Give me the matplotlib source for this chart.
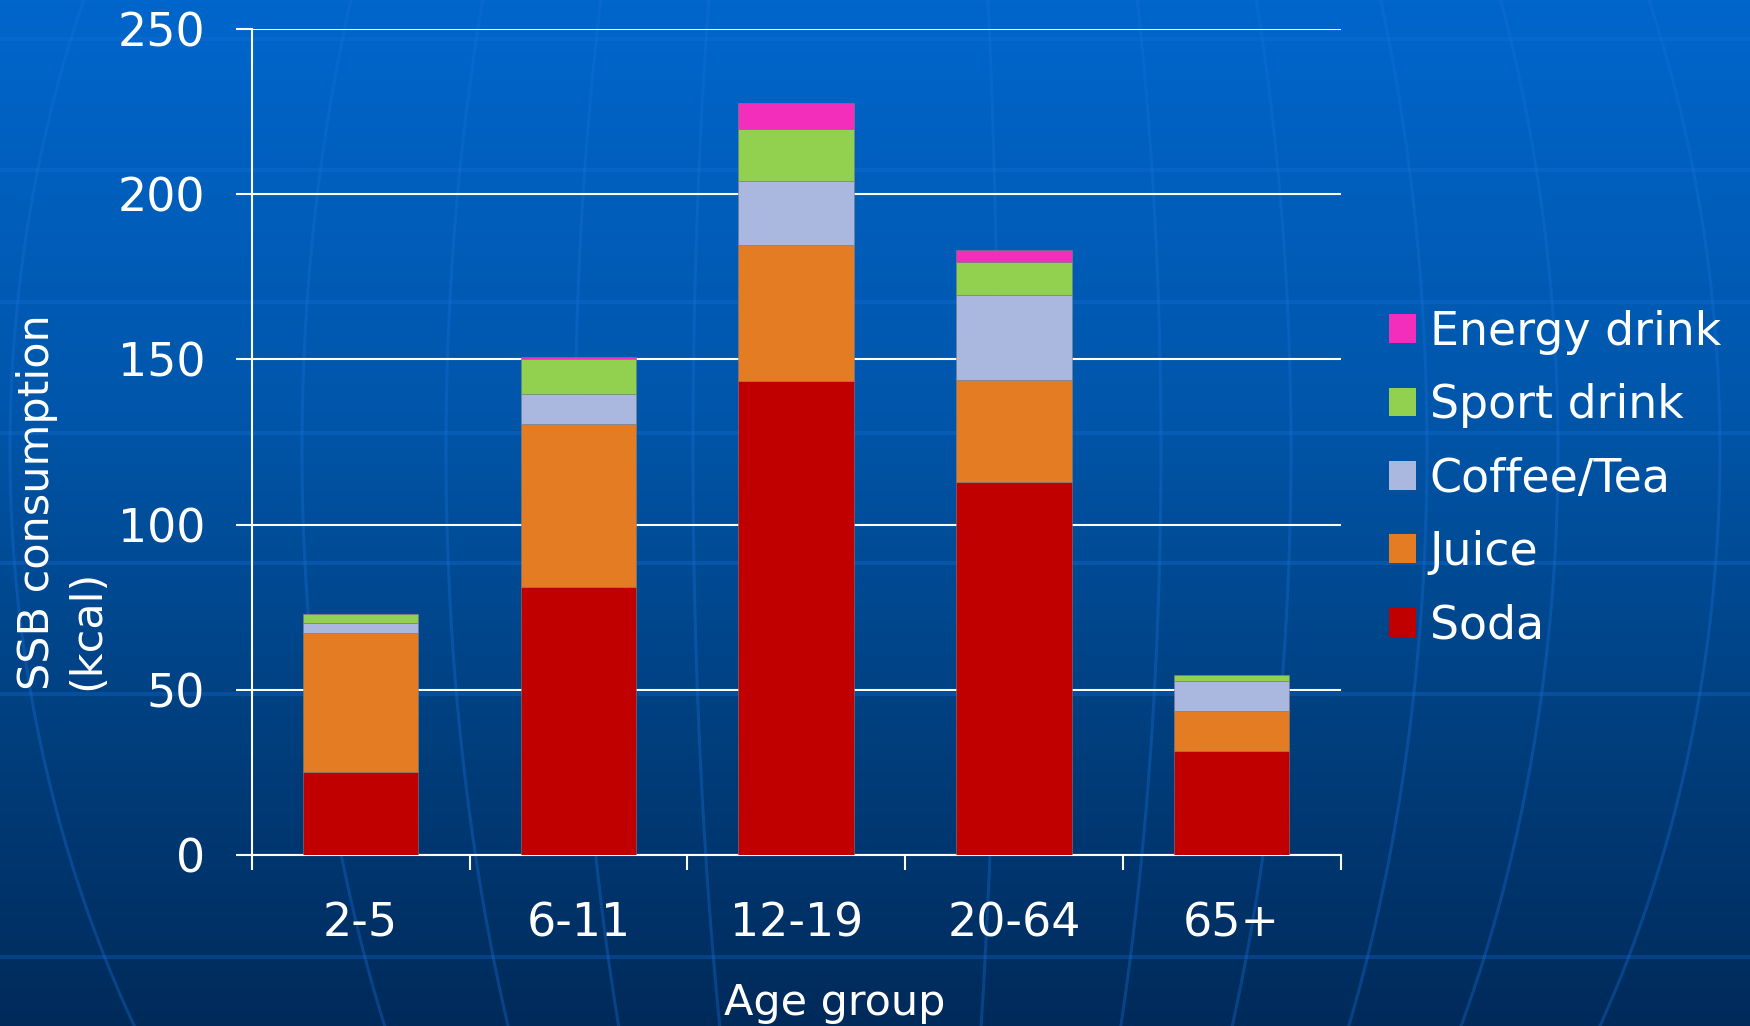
import numpy as np
import matplotlib
matplotlib.use("Agg")
import matplotlib.pyplot as plt
from matplotlib.colors import LinearSegmentedColormap
from matplotlib.patches import Patch

# SSB calories by age group, stacked by beverage type
age_groups = ['2-5', '6-11', '12-19', '20-64', '65+']
soda = [25.0, 81.0, 143.5, 112.8, 31.3]
juice = [42.0, 49.5, 41.3, 30.9, 12.3]
coffee_tea = [3.2, 9.0, 19.2, 25.8, 9.1]
sport_drink = [2.8, 10.5, 15.9, 9.9, 1.6]
energy_drink = [0.0, 0.8, 7.7, 3.8, 0.0]

series_names = ['Soda', 'Juice', 'Coffee/Tea', 'Sport drink', 'Energy drink']
series_values = [soda, juice, coffee_tea, sport_drink, energy_drink]
series_colors = ['#c00000', '#e37c22', '#aab8e0', '#92d050', '#f22eba']

W, H = 1750, 1026
fig = plt.figure(figsize=(W / 100, H / 100), dpi=100)

# --- slide background: blue gradient with globe grid ---
bg = fig.add_axes([0, 0, 1, 1], zorder=0)
bg.set_xlim(0, W)
bg.set_ylim(H, 0)
bg.axis('off')
grad = LinearSegmentedColormap.from_list(
    'slide', [(0.0, '#0066cc'), (0.4, '#0056aa'), (0.7, '#004080'), (1.0, '#002a5a')])
bg.imshow(np.linspace(0, 1, 256).reshape(-1, 1), cmap=grad, aspect='auto',
          extent=(0, W, H, 0), zorder=0)

for yy in [39, 170, 302, 433, 563, 694, 957]:
    bg.plot([0, W], [yy, yy], color='#1870d8', alpha=0.3, lw=3, zorder=1)

cx, cy, ry = 880, 450, 1118
ys = np.linspace(0, H, 200)
fac = np.sqrt(1 - ((ys - cy) / ry) ** 2)
for a in [-870, -578, -434, -305, -187, 118, 281, 411, 547, 678, 840]:
    bg.plot(cx + a * fac, ys, color='#1870d8', alpha=0.35, lw=2.2, zorder=1)

# --- chart ---
ax = fig.add_axes([251.8 / W, 1 - 854.6 / H, (1340.6 - 251.8) / W, (854.6 - 29.4) / H],
                  zorder=2)
ax.patch.set_alpha(0)

x = np.arange(len(age_groups))
bottom = np.zeros(len(age_groups))
handles = []
for name, vals, col in zip(series_names, series_values, series_colors):
    ax.bar(x, vals, width=0.53, bottom=bottom, color=col, edgecolor='#7f7f7f',
           linewidth=0.4, zorder=3)
    bottom += np.array(vals)
    handles.append(Patch(facecolor=col, edgecolor='none', label=name))

ax.set_xlim(-0.5, len(age_groups) - 0.5)
ax.set_ylim(0, 250)
ax.set_yticks(np.arange(0, 251, 50))
ax.yaxis.grid(True, color='white', lw=1.5, zorder=1)
ax.set_axisbelow(True)

ax.set_xticks(x)
ax.set_xticklabels(age_groups)
ax.set_xticks(np.arange(-0.5, len(age_groups)), minor=True)
ax.tick_params(axis='x', which='major', length=0, pad=34, labelsize=33, labelcolor='white')
ax.tick_params(axis='x', which='minor', length=11, width=1.5, color='white', direction='out')
ax.tick_params(axis='y', length=11.5, width=1.5, color='white', pad=22,
               labelsize=33, labelcolor='white')

for side in ['top', 'right']:
    ax.spines[side].set_visible(False)
for side in ['left', 'bottom']:
    ax.spines[side].set_color('white')
    ax.spines[side].set_linewidth(1.5)

fig.text(62 / W, 1 - 690 / H, 'SSB consumption\n(kcal)', rotation=90, ha='center',
         va='bottom', multialignment='left', linespacing=1.25, fontsize=31, color='white')
fig.text(835 / W, 11 / H, 'Age group', ha='center', va='baseline', fontsize=31, color='white')

leg = fig.legend(handles=handles[::-1], loc='center left', bbox_to_anchor=(1389 / W, 1 - 479 / H),
                 bbox_transform=fig.transFigure, frameon=False, fontsize=33,
                 handlelength=0.59, handleheight=0.59, handletextpad=0.3,
                 labelspacing=0.62, borderpad=0, borderaxespad=0)
for t in leg.get_texts():
    t.set_color('white')

fig.savefig('out.png', dpi=100)
